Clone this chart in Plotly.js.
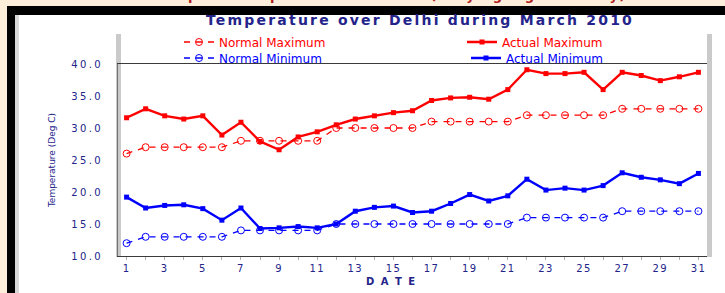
<!DOCTYPE html>
<html>
<head>
<meta charset="utf-8">
<script src="https://cdn.plot.ly/plotly-3.0.1.min.js"></script>
<style>
  html, body { margin: 0; padding: 0; background: #fdeedc; }
  #chart { width: 725px; height: 293px; }
  .gtitle { letter-spacing: 2.2px; }
  .ytick text { letter-spacing: 2.4px; }
  .xtick text { letter-spacing: 1.4px; }
  .annotation-text { letter-spacing: 1.5px; }
</style>
</head>
<body>
<div id="chart"></div>
<script>
// ---- data ----
const days = [1,2,3,4,5,6,7,8,9,10,11,12,13,14,15,16,17,18,19,20,21,22,23,24,25,26,27,28,29,30,31];
const normalMaximum = [26,27,27,27,27,27,28,28,28,28,28,30,30,30,30,30,31,31,31,31,31,32,32,32,32,32,33,33,33,33,33];
const actualMaximum = [31.6,33.0,31.9,31.4,31.9,28.9,30.9,27.9,26.6,28.6,29.4,30.5,31.4,31.9,32.4,32.7,34.3,34.7,34.8,34.5,36.0,39.1,38.5,38.5,38.7,36.0,38.7,38.2,37.4,38.0,38.7];
const normalMinimum = [12,13,13,13,13,13,14,14,14,14,14,15,15,15,15,15,15,15,15,15,15,16,16,16,16,16,17,17,17,17,17];
const actualMinimum = [19.2,17.5,17.9,18.0,17.4,15.6,17.5,14.3,14.4,14.6,14.4,15.0,17.0,17.6,17.8,16.8,17.0,18.2,19.6,18.6,19.4,22.0,20.3,20.6,20.3,21.0,23.0,22.3,21.9,21.3,22.9];
const xTickLabels = ['1','','3','','5','','7','','9','','11','','13','','15','','17','','19','','21','','23','','25','','27','','29','','31'];
const yTickValues = [10,15,20,25,30,35,40];
const seriesNames = ['Normal Maximum','Actual Maximum','Normal Minimum','Actual Minimum'];
const chartTitle = 'Temperature over Delhi during March 2010';
const xTitle = 'D A T E';
const yTitle = 'Temperature (Deg C)';
const topBannerText = 'Temperature profile over Delhi (varying significantly)';

// ---- geometry helpers (pixel -> paper) ----
const L = 118, R = 707, T = 64, B = 256;
const px = x => (x - L) / (R - L);
const py = y => (B - y) / (B - T);

const RED = '#ff0000', BLUE = '#0000ff', NAVY = '#23238a';
const FONT = 'DejaVu Sans, Arial, sans-serif';

const traces = [
  { x: days, y: normalMaximum, name: seriesNames[0], legend: 'legend', type: 'scatter', mode: 'lines+markers',
    line: { color: RED, width: 1.3, dash: '6px,6px' },
    marker: { symbol: 'circle-open', size: 7, color: RED, line: { width: 1, color: RED } } },
  { x: days, y: actualMaximum, name: seriesNames[1], legend: 'legend2', type: 'scatter', mode: 'lines+markers',
    line: { color: RED, width: 2.4 },
    marker: { symbol: 'square', size: 5, color: RED } },
  { x: days, y: normalMinimum, name: seriesNames[2], legend: 'legend3', type: 'scatter', mode: 'lines+markers',
    line: { color: BLUE, width: 1.3, dash: '6px,6px' },
    marker: { symbol: 'circle-open', size: 7, color: BLUE, line: { width: 1, color: BLUE } } },
  { x: days, y: actualMinimum, name: seriesNames[3], legend: 'legend4', type: 'scatter', mode: 'lines+markers',
    line: { color: BLUE, width: 2.4 },
    marker: { symbol: 'square', size: 5, color: BLUE } }
];

function legendAt(xPix, yPix, color) {
  return { x: px(xPix), y: py(yPix), xref: 'paper', yref: 'paper', xanchor: 'left', yanchor: 'middle',
    bgcolor: 'rgba(0,0,0,0)', borderwidth: 0, font: { family: FONT, size: 12, color: color } };
}

const layout = {
  width: 725, height: 293,
  margin: { l: L, r: 725 - R, t: T, b: 293 - B, pad: 0 },
  paper_bgcolor: 'rgba(0,0,0,0)',
  plot_bgcolor: 'rgba(0,0,0,0)',
  showlegend: true,
  title: { text: '<b>' + chartTitle + '</b>', font: { family: FONT, size: 14, color: NAVY },
           x: px(420), xanchor: 'center', xref: 'paper', y: 1 - 20 / 293, yanchor: 'middle', yref: 'container' },
  legend: legendAt(179, 42, RED),
  legend2: legendAt(462, 42, RED),
  legend3: legendAt(179, 58, BLUE),
  legend4: legendAt(466, 58, BLUE),
  xaxis: {
    range: [0.55, 31.45], tickmode: 'array', tickvals: days, ticktext: xTickLabels,
    ticks: 'outside', ticklen: 3, tickcolor: '#b0b0b0', tickwidth: 1,
    showline: true, linecolor: '#3a3a3a', linewidth: 1, mirror: true,
    showgrid: false, zeroline: false,
    tickfont: { family: FONT, size: 10, color: NAVY }
  },
  yaxis: {
    range: [10, 40], tickmode: 'array', tickvals: yTickValues, tickformat: '.1f',
    ticks: '', ticklabelstandoff: 12,
    showline: true, linecolor: '#707070', linewidth: 1,
    showgrid: false, zeroline: false,
    tickfont: { family: FONT, size: 10, color: NAVY },
    title: { text: yTitle, font: { family: FONT, size: 9, color: NAVY }, standoff: 13 }
  },
  shapes: [
    { type: 'rect', xref: 'paper', yref: 'paper', layer: 'below', x0: px(7), x1: px(740), y0: py(310), y1: py(6), fillcolor: '#000000', line: { width: 0 } },
    { type: 'rect', xref: 'paper', yref: 'paper', layer: 'below', x0: px(15), x1: px(740), y0: py(310), y1: py(15), fillcolor: '#ffffff', line: { width: 0 } },
    { type: 'rect', xref: 'paper', yref: 'paper', layer: 'below', x0: px(15), x1: px(19), y0: py(310), y1: py(15), fillcolor: '#d6d6d6', line: { width: 0 } },
    { type: 'rect', xref: 'paper', yref: 'paper', layer: 'below', x0: px(116), x1: px(121), y0: py(257), y1: py(34), fillcolor: '#cacaca', line: { width: 0 } },
    { type: 'rect', xref: 'paper', yref: 'paper', layer: 'below', x0: px(707), x1: px(712), y0: py(257), y1: py(34), fillcolor: '#cacaca', line: { width: 0 } }
  ],
  annotations: [
    { text: '<b>' + topBannerText + '</b>', xref: 'paper', yref: 'paper', x: px(390), y: py(-5),
      xanchor: 'center', yanchor: 'middle', showarrow: false,
      font: { family: FONT, size: 13, color: '#b01818' } },
    { text: '<b>' + xTitle + '</b>', xref: 'paper', yref: 'paper', x: px(391), y: py(281),
      xanchor: 'center', yanchor: 'middle', showarrow: false,
      font: { family: FONT, size: 10, color: NAVY } }
  ]
};

Plotly.newPlot('chart', traces, layout, { displayModeBar: false, staticPlot: true });
</script>
</body>
</html>
